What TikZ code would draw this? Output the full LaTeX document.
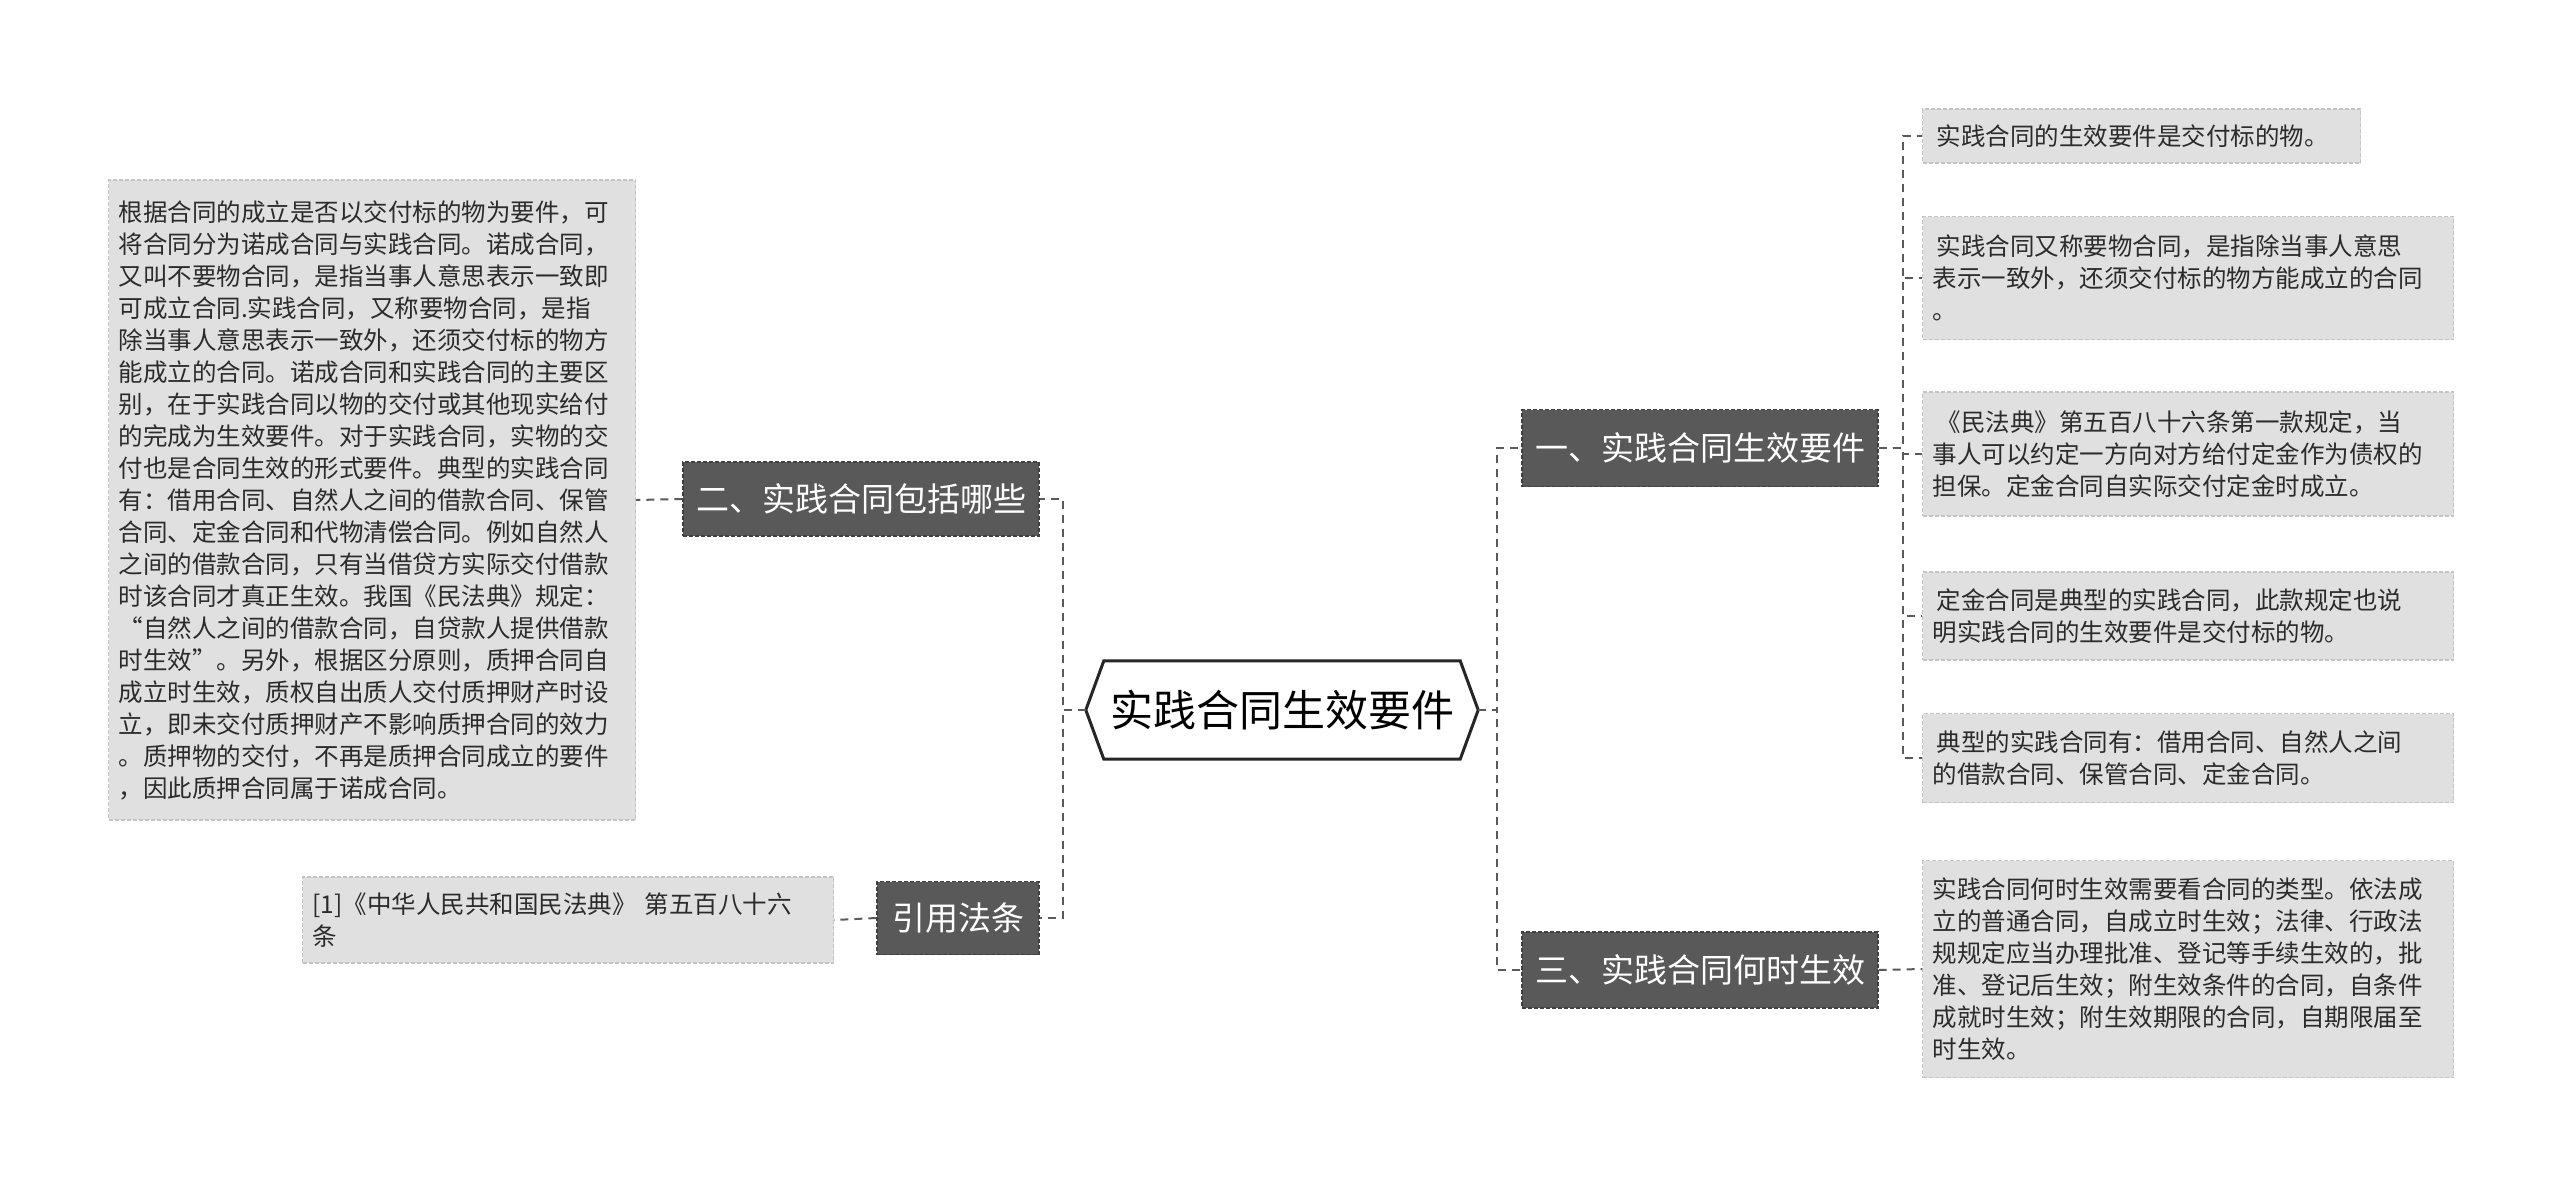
\documentclass[tikz,border=0pt]{standalone}
\usepackage{fontspec}
\setmainfont{Noto Sans CJK SC}
\usepackage{tikz}
\usetikzlibrary{calc}

\definecolor{branchgray}{HTML}{595959}
\definecolor{leafgray}{HTML}{E0E0E0}
\definecolor{leafline}{HTML}{C4C4C4}
\definecolor{linkgray}{HTML}{5A5A5A}
\definecolor{leaftext}{HTML}{2B2B2B}

\tikzset{
  branch/.style={fill=branchgray, draw=black!75, dash pattern=on 4pt off 2pt,
    line width=1.2pt, text=white, inner sep=0pt,
    font=\fontsize{33}{40}\selectfont},
  leaf/.style={fill=leafgray, draw=leafline, dash pattern=on 4pt off 2pt,
    line width=1.2pt, text=leaftext, anchor=west, inner xsep=10pt, inner ysep=0pt,
    align=left, font=\fontsize{24.5}{32}\selectfont},
  link/.style={draw=linkgray, line width=2pt, dash pattern=on 8pt off 6pt}
}

\begin{document}
\begin{tikzpicture}[x=1pt,y=-1pt]
  \useasboundingbox[fill=white] (0,0) rectangle (2560,1187);

  %root
  \node[minimum width=392pt, minimum height=98pt, inner sep=0pt,
    font=\fontsize{43}{48}\selectfont] (root) at (1282,710) {实践合同生效要件};
  \draw[line width=3pt, draw=black!85, line join=miter]
    (root.west) -- ([xshift=18pt]root.north west) -- ([xshift=-18pt]root.north east)
    -- (root.east) -- ([xshift=-18pt]root.south east) -- ([xshift=18pt]root.south west) -- cycle;

  %branches
  \node[branch, minimum width=356pt, minimum height=77pt] (b1) at (1700,448) {一、实践合同生效要件};
  \node[branch, minimum width=356pt, minimum height=76pt] (b3) at (1700,970) {三、实践合同何时生效};
  \node[branch, minimum width=356pt, minimum height=74pt] (b2) at (861,499) {二、实践合同包括哪些};
  \node[branch, minimum width=162pt, minimum height=73pt] (b4) at (958,918) {引用法条};

  %leaves of b1
  \node[leaf, text width=418pt, minimum height=54pt] (l1) at (1922,136)
    {\hspace*{4pt}实践合同的生效要件是交付标的物。};
  \node[leaf, text width=511pt, minimum height=123pt] (l2) at (1922,278)
    {\hspace*{4pt}实践合同又称要物合同，是指除当事人意思\\表示一致外，还须交付标的物方能成立的合同\\。};
  \node[leaf, text width=511pt, minimum height=124pt] (l3) at (1922,454)
    {\hspace*{4pt}《民法典》第五百八十六条第一款规定，当\\事人可以约定一方向对方给付定金作为债权的\\担保。定金合同自实际交付定金时成立。};
  \node[leaf, text width=511pt, minimum height=88pt] (l4) at (1922,616)
    {\hspace*{4pt}定金合同是典型的实践合同，此款规定也说\\明实践合同的生效要件是交付标的物。};
  \node[leaf, text width=511pt, minimum height=89pt] (l5) at (1922,758)
    {\hspace*{4pt}典型的实践合同有：借用合同、自然人之间\\的借款合同、保管合同、定金合同。};

  %leaf of b3
  \node[leaf, text width=511pt, minimum height=217pt] (l6) at (1922,969)
    {实践合同何时生效需要看合同的类型。依法成\\立的普通合同，自成立时生效；法律、行政法\\规规定应当办理批准、登记等手续生效的，批\\准、登记后生效；附生效条件的合同，自条件\\成就时生效；附生效期限的合同，自期限届至\\时生效。};

  %leaf of b2
  \node[leaf, text width=507pt, minimum height=640pt] (big) at (108,500)
    {根据合同的成立是否以交付标的物为要件，可\\将合同分为诺成合同与实践合同。诺成合同，\\又叫不要物合同，是指当事人意思表示一致即\\可成立合同.实践合同，又称要物合同，是指\\除当事人意思表示一致外，还须交付标的物方\\能成立的合同。诺成合同和实践合同的主要区\\别，在于实践合同以物的交付或其他现实给付\\的完成为生效要件。对于实践合同，实物的交\\付也是合同生效的形式要件。典型的实践合同\\有：借用合同、自然人之间的借款合同、保管\\合同、定金合同和代物清偿合同。例如自然人\\之间的借款合同，只有当借贷方实际交付借款\\时该合同才真正生效。我国《民法典》规定：\\“自然人之间的借款合同，自贷款人提供借款\\时生效”。另外，根据区分原则，质押合同自\\成立时生效，质权自出质人交付质押财产时设\\立，即未交付质押财产不影响质押合同的效力\\。质押物的交付，不再是质押合同成立的要件\\，因此质押合同属于诺成合同。};

  %leaf of b4
  \node[leaf, text width=511pt, minimum height=86pt] (cite) at (302,920)
    {[1]《中华人民共和国民法典》 第五百八十六\\条};

  %links
  \draw[link] (root.east) -- ++(19,0) |- (b1.west);
  \draw[link] (root.east) -- ++(19,0) |- (b3.west);
  \draw[link] (root.west) -- ++(-23,0) |- (b2.east);
  \draw[link] (root.west) -- ++(-23,0) |- (b4.east);
  \foreach \i in {1,...,5}
    \draw[link] (b1.east) -- ++(24,0) |- (l\i.west);
  \draw[link] (b3.east) -- (l6.west);
  \draw[link] (b2.west) -- (big.east);
  \draw[link] (b4.west) -- (cite.east);

\end{tikzpicture}
\end{document}
